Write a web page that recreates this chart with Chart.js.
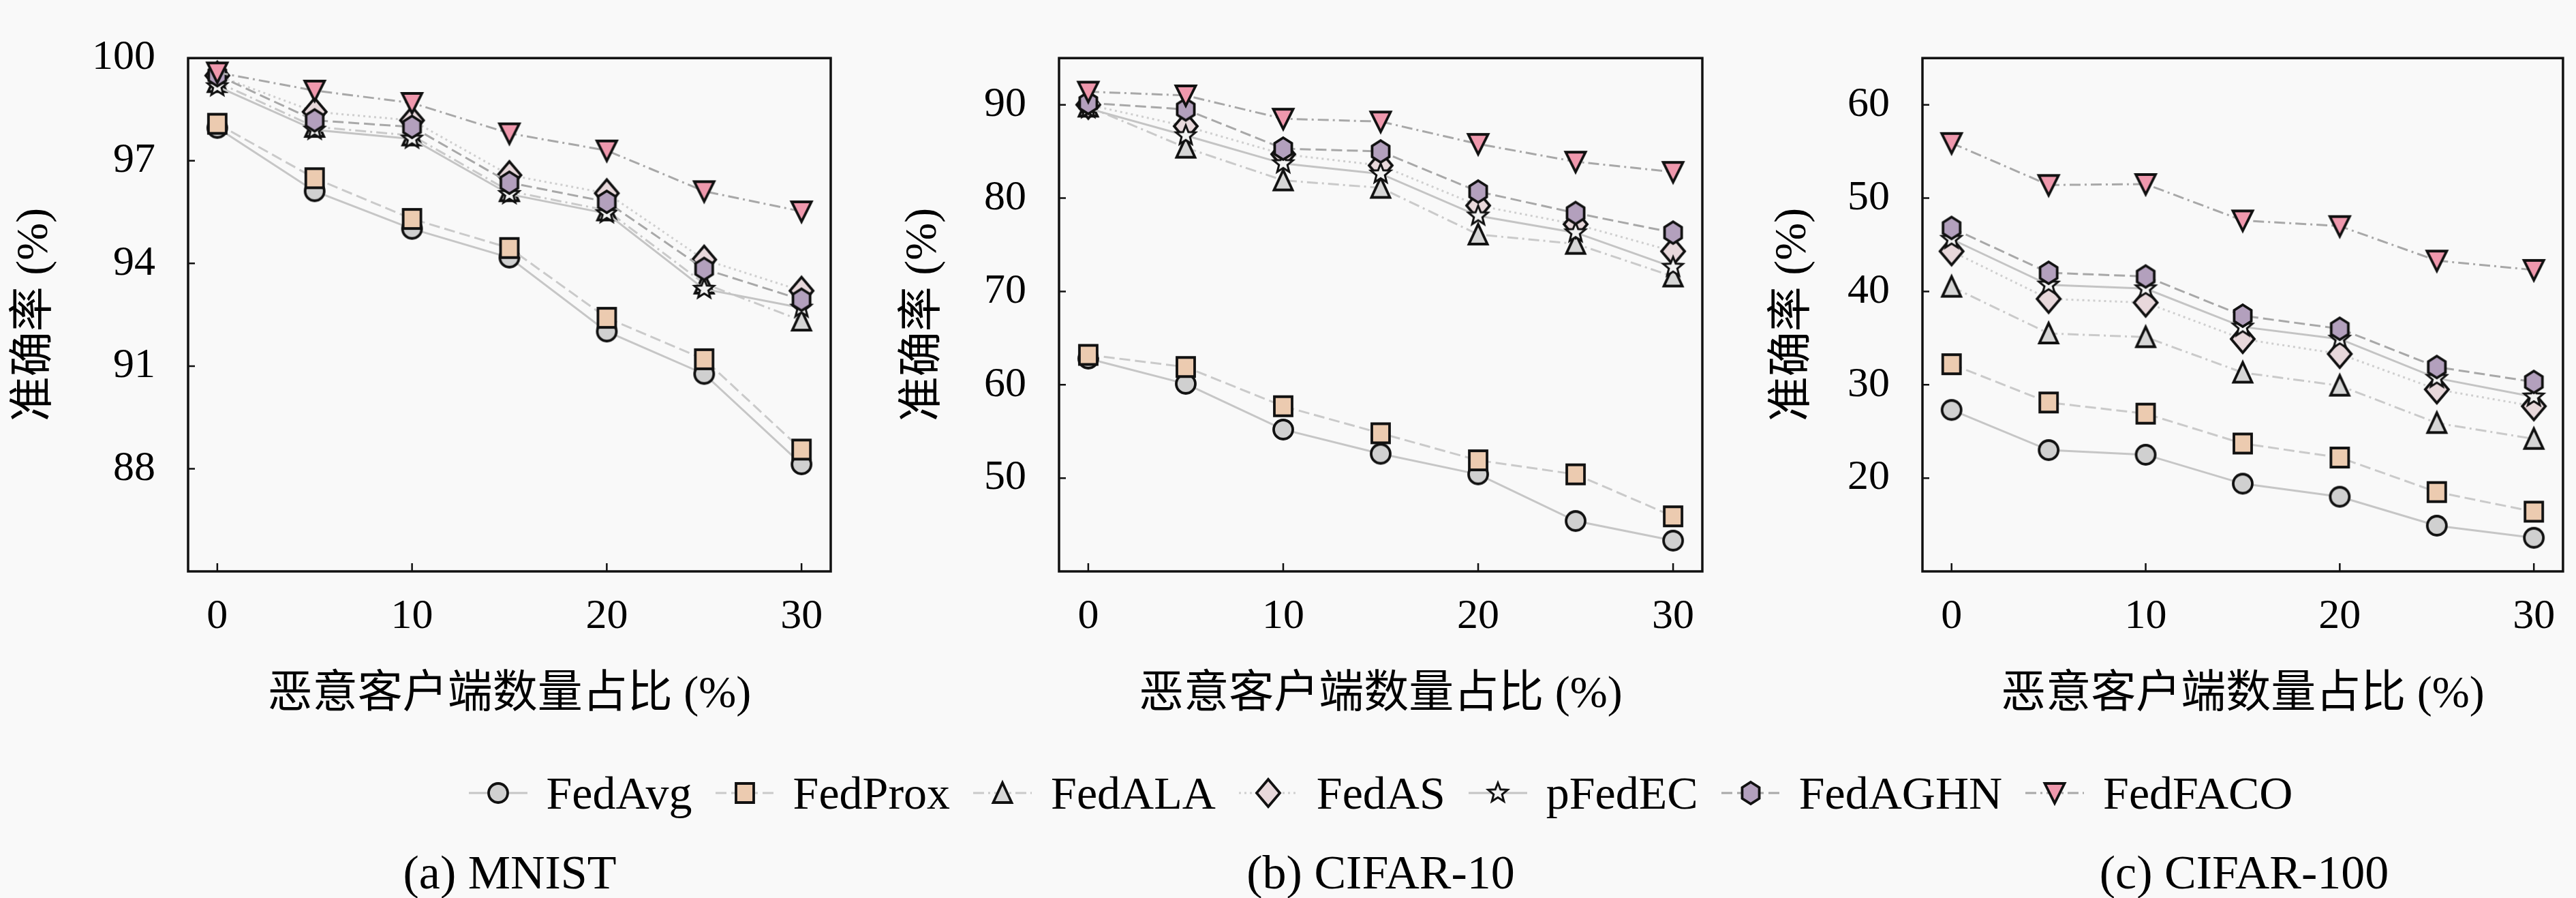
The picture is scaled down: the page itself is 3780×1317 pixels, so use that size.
<!DOCTYPE html>
<html>
<head>
<meta charset="utf-8">
<script src="https://cdn.jsdelivr.net/npm/chart.js@4.4.1/dist/chart.umd.min.js"></script>
<style>
html, body { margin: 0; padding: 0; background: #f9f9f9; }
body { width: 3780px; height: 1317px; position: relative; overflow: hidden;
       font-family: "Liberation Serif", "Noto Sans CJK SC", serif; color: #000; }
.pane { position: absolute; top: 0; }
#legend { position: absolute; left: 136px; top: 1126px; width: 3780px; height: 74px;
          display: flex; justify-content: center; align-items: center; }
.item { display: flex; align-items: center; font-size: 68px; line-height: 1; margin: 0 17px; }
.item canvas { margin-right: 28px; }
.cap { position: absolute; top: 1245px; font-size: 70px; line-height: 1;
       transform: translateX(-50%); white-space: nowrap; }
</style>
</head>
<body>
<div class="pane" style="left:0px"><canvas id="c0" width="1250" height="1070"></canvas></div>
<div class="pane" style="left:1250px"><canvas id="c1" width="1270" height="1070"></canvas></div>
<div class="pane" style="left:2520px"><canvas id="c2" width="1260" height="1070"></canvas></div>
<div id="legend"></div>
<div class="cap" style="left:748px">(a) MNIST</div>
<div class="cap" style="left:2026px">(b) CIFAR-10</div>
<div class="cap" style="left:3293px">(c) CIFAR-100</div>

<script>
// x: share of malicious clients (%)
var xs = [0, 5, 10, 15, 20, 25, 30];
var xTicks = [0, 10, 20, 30];
var methods = ['FedAvg', 'FedProx', 'FedALA', 'FedAS', 'pFedEC', 'FedAGHN', 'FedFACO'];

// (a) MNIST accuracy (%)
var mnistFedAvg  = [97.96, 96.11, 95.01, 94.17, 92.01, 90.77, 88.13];
var mnistFedProx = [98.08, 96.49, 95.30, 94.45, 92.41, 91.20, 88.56];
var mnistFedALA  = [99.30, 97.99, 97.74, 96.11, 95.55, 93.41, 92.33];
var mnistFedAS   = [99.49, 98.43, 98.18, 96.58, 96.05, 94.11, 93.20];
var mnistPFedEC  = [99.17, 97.90, 97.64, 96.02, 95.46, 93.25, 92.70];
var mnistFedAGHN = [99.50, 98.18, 97.99, 96.36, 95.80, 93.84, 92.94];
var mnistFedFACO = [99.58, 99.05, 98.69, 97.80, 97.30, 96.11, 95.52];
var mnistTicks = [88, 91, 94, 97, 100];

// (b) CIFAR-10 accuracy (%)
var c10FedAvg  = [62.8, 60.1, 55.2, 52.6, 50.4, 45.4, 43.3];
var c10FedProx = [63.2, 61.9, 57.7, 54.8, 51.9, 50.4, 45.9];
var c10FedALA  = [89.8, 85.4, 81.9, 81.1, 76.1, 75.1, 71.6];
var c10FedAS   = [90.0, 87.7, 84.7, 83.5, 79.2, 77.2, 74.3];
var c10PFedEC  = [89.6, 86.7, 83.7, 82.6, 78.1, 76.3, 72.6];
var c10FedAGHN = [90.2, 89.5, 85.3, 85.0, 80.7, 78.4, 76.3];
var c10FedFACO = [91.4, 91.0, 88.5, 88.2, 85.8, 83.9, 82.8];
var c10Ticks = [50, 60, 70, 80, 90];

// (c) CIFAR-100 accuracy (%)
var c100FedAvg  = [27.3, 23.0, 22.5, 19.4, 18.0, 14.9, 13.6];
var c100FedProx = [32.2, 28.1, 26.9, 23.7, 22.2, 18.5, 16.4];
var c100FedALA  = [40.5, 35.5, 35.1, 31.3, 29.9, 25.9, 24.2];
var c100FedAS   = [44.3, 39.2, 38.8, 34.9, 33.3, 29.5, 27.7];
var c100PFedEC  = [45.6, 40.7, 40.3, 36.2, 34.9, 30.7, 28.7];
var c100FedAGHN = [46.8, 42.0, 41.6, 37.4, 36.0, 31.9, 30.3];
var c100FedFACO = [55.9, 51.4, 51.5, 47.6, 47.0, 43.3, 42.3];
var c100Ticks = [20, 30, 40, 50, 60];

var serif = '"Liberation Serif", "Noto Sans CJK SC", serif';

// marker look per method
var shapes = ['circle', 'square', 'triUp', 'diamond', 'star', 'hexagon', 'triDown'];
var fills  = ['#d0d0d0', '#eccbb0', '#d6d6d6', '#e8d8db', '#f2f2f2', '#b3a0bd', '#ef98ad'];
var lineColors = ['#c6c6c6', '#cacaca', '#cacaca', '#cfcfcf', '#c4c4c4', '#a8a8a8', '#a8a8a8'];
var dashes = [[], [16, 7], [16, 6, 3, 6], [3, 5], [], [16, 7], [16, 6, 3, 6]];

function makeMarker(shape, fill) {
    var c = document.createElement('canvas');
    c.width = 50; c.height = 54;
    var g = c.getContext('2d');
    g.translate(25, 27);
    g.lineWidth = 3.8;
    g.strokeStyle = '#111';
    g.fillStyle = fill;
    g.lineJoin = 'miter';
    g.beginPath();
    if (shape == 'circle') {
        g.arc(0, 0, 14, 0, Math.PI * 2);
    } else if (shape == 'square') {
        g.rect(-13, -14, 26, 28);
    } else if (shape == 'triUp') {
        g.moveTo(0, -15); g.lineTo(13.5, 14); g.lineTo(-13.5, 14); g.closePath();
    } else if (shape == 'triDown') {
        g.moveTo(0, 15); g.lineTo(14.5, -14); g.lineTo(-14.5, -14); g.closePath();
    } else if (shape == 'diamond') {
        g.moveTo(0, -20); g.lineTo(17, 0); g.lineTo(0, 20); g.lineTo(-17, 0); g.closePath();
    } else if (shape == 'hexagon') {
        for (var k = 0; k < 6; k++) {
            var a = -Math.PI / 2 + k * Math.PI / 3;
            g.lineTo(14.5 * Math.cos(a), 16 * Math.sin(a));
        }
        g.closePath();
    } else if (shape == 'star') {
        for (var j = 0; j < 10; j++) {
            var b = -Math.PI / 2 + j * Math.PI / 5;
            var r = j % 2 == 0 ? 15 : 6.5;
            g.lineTo(r * Math.cos(b), r * Math.sin(b));
        }
        g.closePath();
        g.lineWidth = 3;
    }
    g.fill();
    g.stroke();
    return c;
}

var markers = shapes.map(function (s, i) { return makeMarker(s, fills[i]); });

function buildDatasets(seriesList) {
    return seriesList.map(function (vals, i) {
        return {
            label: methods[i],
            data: xs.map(function (x, k) { return { x: x, y: vals[k] }; }),
            borderColor: lineColors[i],
            borderWidth: 3,
            borderDash: dashes[i],
            backgroundColor: fills[i],
            pointStyle: markers[i],
            pointRadius: 15,
            fill: false,
            tension: 0,
            clip: false,
            order: methods.length - 1 - i
        };
    });
}

// box + inward ticks on left and bottom
var frameTicks = {
    id: 'frameTicks',
    afterDraw: function (chart) {
        var ctx = chart.ctx, a = chart.chartArea;
        var sx = chart.scales.x, sy = chart.scales.y;
        ctx.save();
        ctx.strokeStyle = '#111';
        ctx.lineWidth = 3.5;
        ctx.strokeRect(a.left, a.top, a.right - a.left, a.bottom - a.top);
        ctx.lineWidth = 2.5;
        ctx.beginPath();
        sx.ticks.forEach(function (t) {
            var px = sx.getPixelForValue(t.value);
            ctx.moveTo(px, a.bottom); ctx.lineTo(px, a.bottom - 12);
        });
        sy.ticks.forEach(function (t) {
            var py = sy.getPixelForValue(t.value);
            ctx.moveTo(a.left, py); ctx.lineTo(a.left + 10, py);
        });
        ctx.stroke();
        ctx.restore();
    }
};

function makePanel(id, seriesList, yMin, yMax, yTicks, padLeft, yWidth, padRight) {
    var ctx = document.getElementById(id).getContext('2d');
    return new Chart(ctx, {
        type: 'line',
        data: { datasets: buildDatasets(seriesList) },
        options: {
            responsive: false,
            animation: false,
            events: [],
            layout: { padding: { left: padLeft, right: padRight, top: 36, bottom: 11 } },
            plugins: { legend: { display: false }, tooltip: { enabled: false } },
            scales: {
                x: {
                    type: 'linear', min: -1.5, max: 31.5,
                    grid: { display: false, drawTicks: false },
                    border: { display: false },
                    afterBuildTicks: function (s) { s.ticks = xTicks.map(function (v) { return { value: v }; }); },
                    afterFit: function (s) { s.height = 221; },
                    ticks: { font: { family: serif, size: 62 }, color: '#000', padding: 30, maxRotation: 0, autoSkip: false },
                    title: { display: true, text: '恶意客户端数量占比 (%)', color: '#000', padding: 0,
                             font: { family: serif, size: 66, lineHeight: 1.2 } }
                },
                y: {
                    type: 'linear', min: yMin, max: yMax,
                    grid: { display: false, drawTicks: false },
                    border: { display: false },
                    afterBuildTicks: function (s) { s.ticks = yTicks.map(function (v) { return { value: v }; }); },
                    afterFit: function (s) { s.width = yWidth; },
                    ticks: { font: { family: serif, size: 62 }, color: '#000', padding: 48, autoSkip: false },
                    title: { display: true, text: '准确率 (%)', color: '#000', padding: 0,
                             font: { family: serif, size: 66, lineHeight: 1.2 } }
                }
            }
        },
        plugins: [frameTicks]
    });
}

makePanel('c0', [mnistFedAvg, mnistFedProx, mnistFedALA, mnistFedAS, mnistPFedEC, mnistFedAGHN, mnistFedFACO],
          85, 100, mnistTicks, 12, 264, 31);
makePanel('c1', [c10FedAvg, c10FedProx, c10FedALA, c10FedAS, c10PFedEC, c10FedAGHN, c10FedFACO],
          40, 95, c10Ticks, 66, 238, 22);
makePanel('c2', [c100FedAvg, c100FedProx, c100FedALA, c100FedAS, c100PFedEC, c100FedAGHN, c100FedFACO],
          10, 65, c100Ticks, 72, 229, 14);

// shared legend row
var legendBox = document.getElementById('legend');
methods.forEach(function (name, i) {
    var item = document.createElement('div');
    item.className = 'item';
    var cv = document.createElement('canvas');
    cv.width = 86; cv.height = 54;
    var g = cv.getContext('2d');
    g.strokeStyle = lineColors[i];
    g.lineWidth = 3;
    g.setLineDash(dashes[i]);
    g.beginPath(); g.moveTo(0, 27); g.lineTo(86, 27); g.stroke();
    g.setLineDash([]);
    g.drawImage(markers[i], 43 - 25, 0);
    var label = document.createElement('span');
    label.textContent = name;
    item.appendChild(cv);
    item.appendChild(label);
    legendBox.appendChild(item);
});
</script>
</body>
</html>
